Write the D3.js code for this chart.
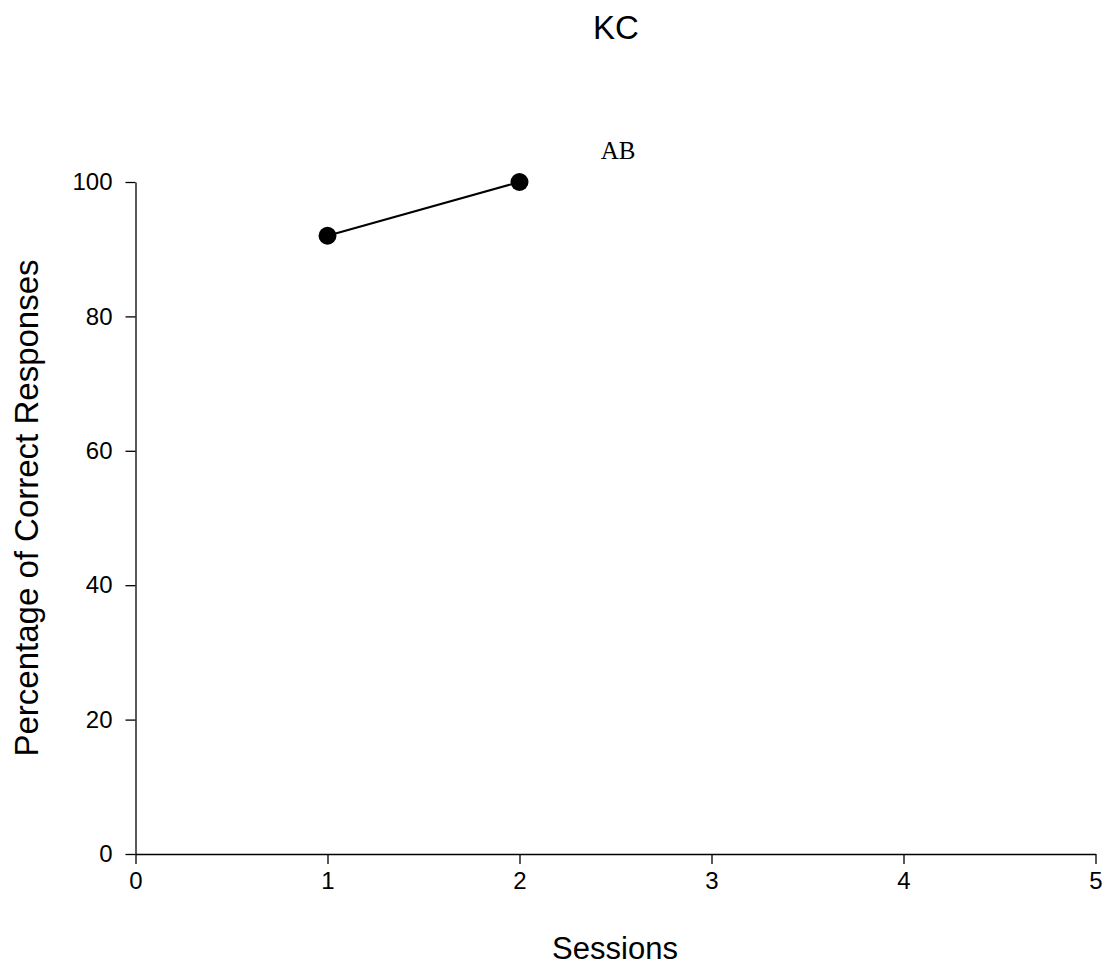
<!DOCTYPE html>
<html>
<head>
<meta charset="utf-8">
<script src="https://cdn.jsdelivr.net/npm/d3@7"></script>
<style>
  body { margin: 0; background: #fff; }
  text { font-family: "Liberation Sans", Arial, sans-serif; }
</style>
</head>
<body>
<div id="chart"></div>
<script>
var sessions = [1, 2];
var percents = [92, 100];
var xTicks = [0, 1, 2, 3, 4, 5];
var yTicks = [0, 20, 40, 60, 80, 100];
var chartTitle = "KC";
var phaseLabel = "AB";

var W = 1110, H = 973;
var mLeft = 135.5, mRight = 1095.5, mTop = 182, mBottom = 854;

var svg = d3.select("#chart").append("svg")
    .attr("width", W)
    .attr("height", H);

let x = d3.scaleLinear().domain([0, 5]).range([mLeft, mRight]);
let y = d3.scaleLinear().domain([0, 100]).range([mBottom, mTop]);

// axes
var xAxis = svg.append("g")
    .attr("transform", "translate(0," + mBottom + ")")
    .call(d3.axisBottom(x).tickValues(xTicks).tickFormat(d3.format("d"))
        .tickSize(10).tickPadding(8).tickSizeOuter(0));
var yAxis = svg.append("g")
    .attr("transform", "translate(" + mLeft + ",0)")
    .call(d3.axisLeft(y).tickValues(yTicks).tickFormat(d3.format("d"))
        .tickSize(10).tickPadding(13).tickSizeOuter(0));

[xAxis, yAxis].forEach(function(a){
    a.attr("font-size", 24).attr("font-family", null);
    a.selectAll("path, line").attr("stroke", "#000").attr("stroke-width", 1.3);
    a.selectAll("text").attr("fill", "#000");
});

// data line
var line = d3.line()
    .x(function(d, i){ return x(sessions[i]); })
    .y(function(d){ return y(d); });
svg.append("path")
    .datum(percents)
    .attr("d", line)
    .attr("fill", "none")
    .attr("stroke", "#000")
    .attr("stroke-width", 2);

svg.selectAll("circle.pt")
    .data(percents)
    .join("circle")
    .attr("class", "pt")
    .attr("cx", function(d, i){ return x(sessions[i]); })
    .attr("cy", function(d){ return y(d); })
    .attr("r", 9)
    .attr("fill", "#000");

// title
svg.append("text")
    .attr("x", 616).attr("y", 39)
    .attr("text-anchor", "middle")
    .attr("font-size", 33)
    .text(chartTitle);

// phase label
svg.append("text")
    .attr("x", 618).attr("y", 159)
    .attr("text-anchor", "middle")
    .attr("font-size", 25)
    .style("font-family", "Liberation Serif, Times New Roman, serif")
    .text(phaseLabel);

// axis titles
svg.append("text")
    .attr("x", 615).attr("y", 959)
    .attr("text-anchor", "middle")
    .attr("font-size", 31)
    .text("Sessions");

svg.append("text")
    .attr("transform", "translate(38,508) rotate(-90)")
    .attr("text-anchor", "middle")
    .attr("font-size", 33)
    .text("Percentage of Correct Responses");
</script>
</body>
</html>
